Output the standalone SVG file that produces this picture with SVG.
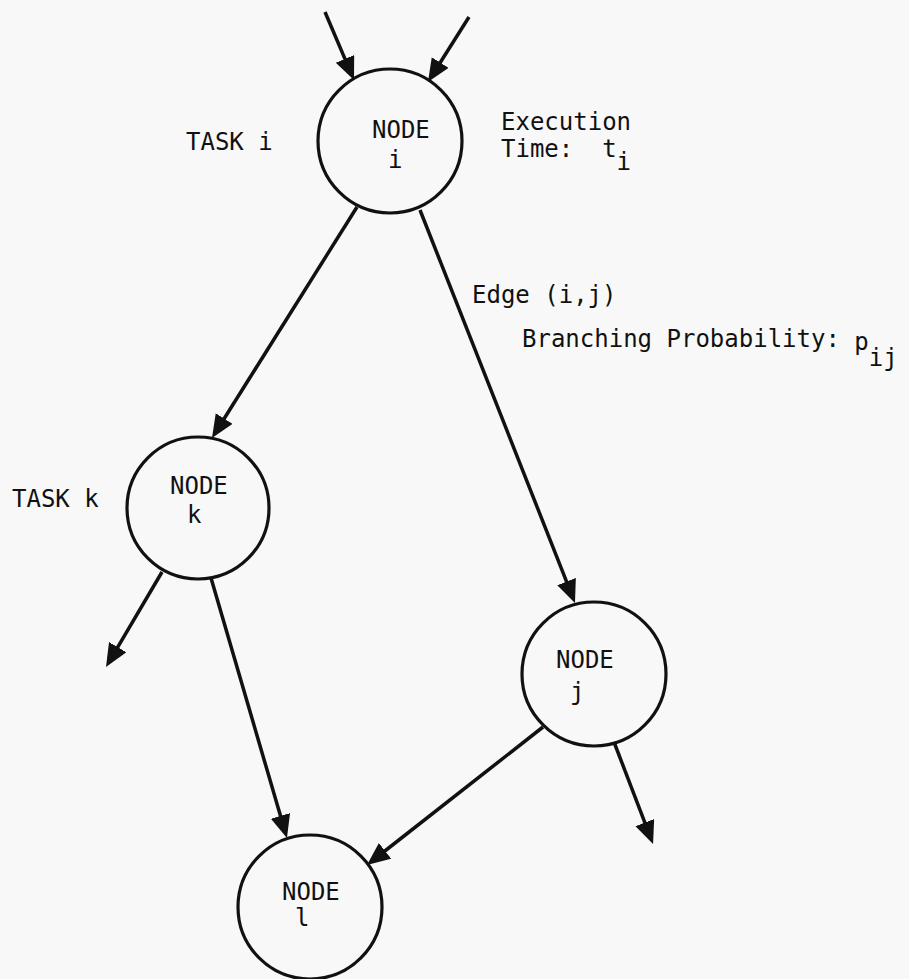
<svg xmlns="http://www.w3.org/2000/svg" width="909" height="979" viewBox="0 0 909 979">
<style>
.bg{fill:#f8f8f8}
.node{fill:none;stroke:#111;stroke-width:3.2}
.edge{stroke:#111;stroke-width:3.5;fill:none;marker-end:url(#ah)}
text{font-family:"DejaVu Sans Mono","Liberation Mono",monospace;font-size:24px;fill:#111}
</style>
<defs>
<marker id="ah" markerUnits="userSpaceOnUse" markerWidth="26" markerHeight="22" refX="10" refY="10" orient="auto">
<path d="M0,0 L23,10 L0,20 Z" fill="#111"/>
</marker>
</defs>
<rect class="bg" x="0" y="0" width="909" height="979"/>
<g id="connectors">
<line class="edge" x1="325" y1="12" x2="348.9" y2="68.1"/>
<line class="edge" x1="469" y1="17" x2="434.9" y2="71.0"/>
<line class="edge" x1="357" y1="207" x2="218.9" y2="427.0"/>
<line class="edge" x1="420" y1="210" x2="570.2" y2="590.9"/>
<line class="edge" x1="162" y1="572" x2="112.6" y2="655.8"/>
<line class="edge" x1="211" y1="578" x2="283.3" y2="825.5"/>
<line class="edge" x1="543" y1="727" x2="377.2" y2="857.0"/>
<line class="edge" x1="614" y1="742" x2="648.4" y2="831.9"/>
</g>
<g id="node-i">
<circle class="node" cx="390" cy="141" r="72"/>
<text x="372" y="138">NODE</text>
<text x="388" y="168">i</text>
</g>
<g id="node-k">
<circle class="node" cx="198" cy="508" r="71"/>
<text x="170" y="494">NODE</text>
<text x="187" y="523">k</text>
</g>
<g id="node-j">
<circle class="node" cx="594" cy="674" r="72"/>
<text x="556" y="668">NODE</text>
<text x="570" y="700">j</text>
</g>
<g id="node-l">
<circle class="node" cx="310" cy="907" r="72"/>
<text x="282" y="900">NODE</text>
<text x="295" y="926">l</text>
</g>
<g id="labels">
<text x="186" y="150">TASK i</text>
<text x="501" y="130">Execution</text>
<text x="501" y="157" xml:space="preserve">Time:  t<tspan dy="13">i</tspan></text>
<text x="472" y="303">Edge (i,j)</text>
<text x="522" y="347">Branching Probability: <tspan dy="3">p</tspan><tspan dy="16">ij</tspan></text>
<text x="12" y="507">TASK k</text>
</g>
</svg>
